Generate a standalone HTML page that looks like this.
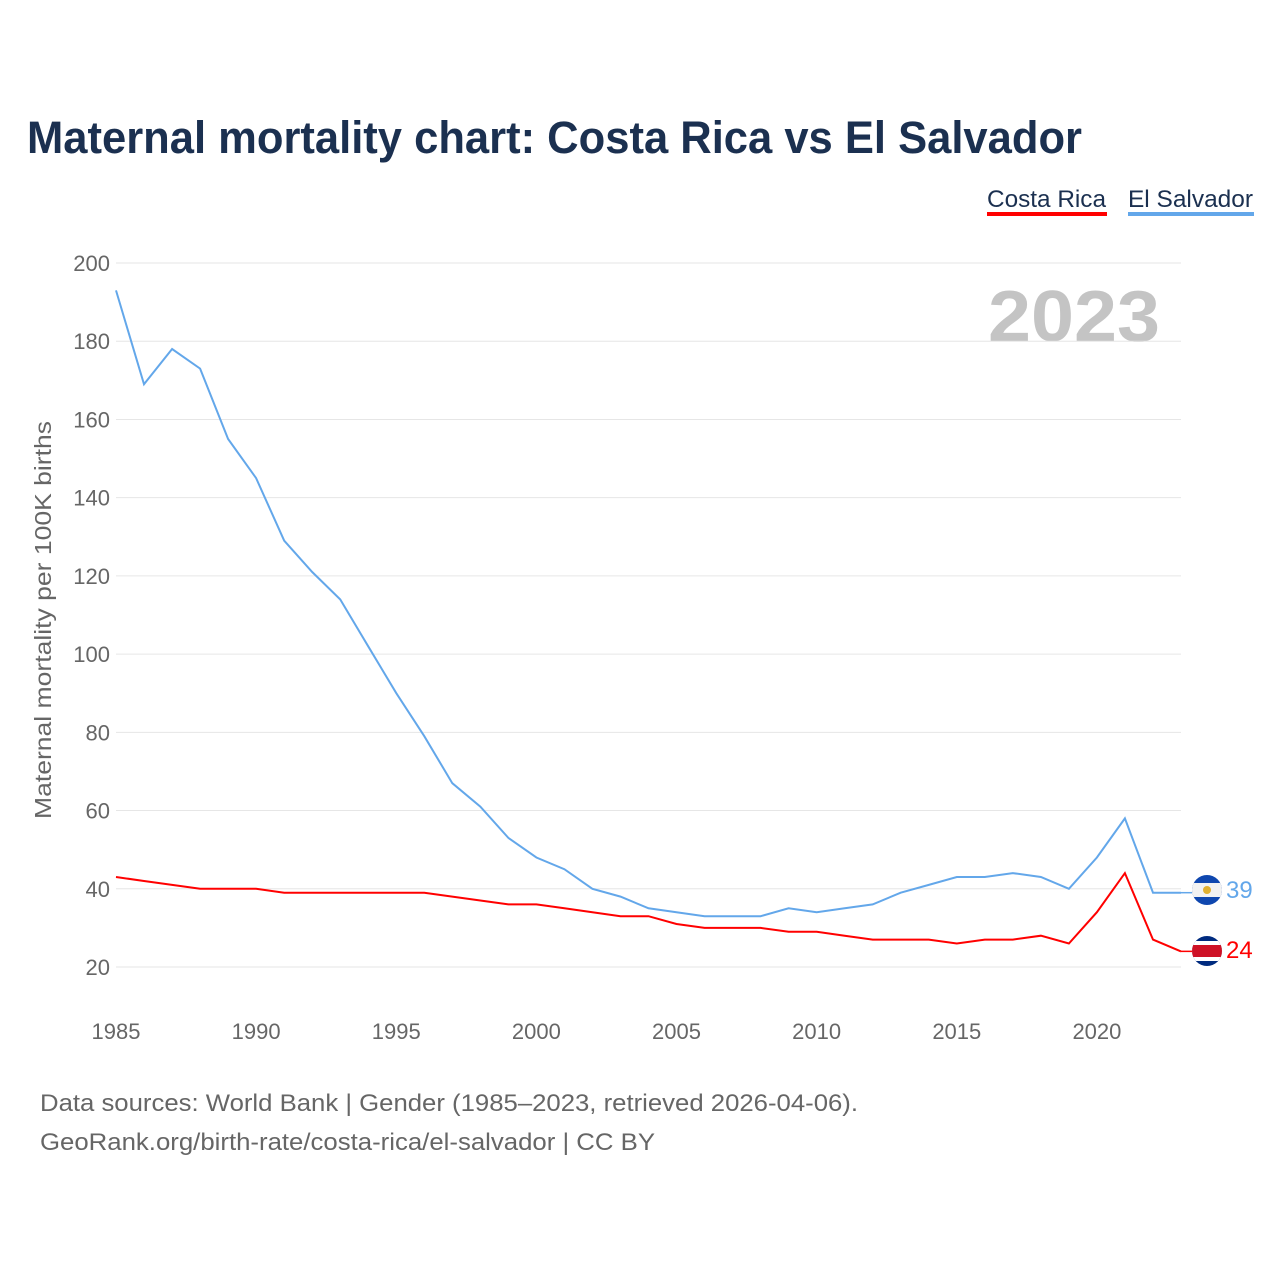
<!DOCTYPE html>
<html><head><meta charset="utf-8"><style>
body{margin:0;background:#fff;font-family:"Liberation Sans",sans-serif}
</style></head><body>
<svg id="c" width="1280" height="1280" xmlns="http://www.w3.org/2000/svg">
<defs>
<clipPath id="f1"><circle cx="1207" cy="890" r="15"/></clipPath>
<clipPath id="f2"><circle cx="1207" cy="951" r="15"/></clipPath>
</defs>
<text x="27" y="153" font-size="45" font-weight="bold" fill="#1b3050" textLength="1055" lengthAdjust="spacingAndGlyphs">Maternal mortality chart: Costa Rica vs El Salvador</text>
<g><text x="987" y="207" font-size="24" fill="#1b3050" textLength="119" lengthAdjust="spacingAndGlyphs">Costa Rica</text><rect x="987" y="212" width="120" height="4" fill="#ff0000"/></g>
<g><text x="1128" y="207" font-size="24" fill="#1b3050" textLength="125" lengthAdjust="spacingAndGlyphs">El Salvador</text><rect x="1128" y="212" width="126" height="4" fill="#63a7ea"/></g>
<text x="1160" y="341" font-size="72" font-weight="bold" fill="#c4c4c4" text-anchor="end" textLength="172" lengthAdjust="spacingAndGlyphs">2023</text>
<text transform="translate(51,620) rotate(-90)" font-size="23" fill="#666" text-anchor="middle" textLength="398" lengthAdjust="spacingAndGlyphs">Maternal mortality per 100K births</text>
<g id="grid"></g><g id="lines"></g>
<g clip-path="url(#f1)"><rect x="1190" y="875" width="34" height="30" fill="#0f47af"/><rect x="1190" y="883" width="34" height="14" fill="#f2f2f2"/><circle cx="1207" cy="890" r="4" fill="#e0b030"/></g>
<g clip-path="url(#f2)"><rect x="1190" y="936" width="34" height="30" fill="#002b7f"/><rect x="1190" y="941" width="34" height="20" fill="#fff"/><rect x="1190" y="945" width="34" height="12" fill="#ce1126"/></g>
<text x="1226" y="898" font-size="24" fill="#63a7ea">39</text>
<text x="1226" y="958" font-size="24" fill="#ff0000">24</text>
<text x="40" y="1111" font-size="24" fill="#666" textLength="818" lengthAdjust="spacingAndGlyphs">Data sources: World Bank | Gender (1985–2023, retrieved 2026-04-06).</text>
<text x="40" y="1150" font-size="24" fill="#666" textLength="615" lengthAdjust="spacingAndGlyphs">GeoRank.org/birth-rate/costa-rica/el-salvador | CC BY</text>
</svg>
<script>
const years=[1985,1986,1987,1988,1989,1990,1991,1992,1993,1994,1995,1996,1997,1998,1999,2000,2001,2002,2003,2004,2005,2006,2007,2008,2009,2010,2011,2012,2013,2014,2015,2016,2017,2018,2019,2020,2021,2022,2023];
const elSalvador=[193,169,178,173,155,145,129,121,114,102,90,79,67,61,53,48,45,40,38,35,34,33,33,33,35,34,35,36,39,41,43,43,44,43,40,48,58,39,39];
const costaRica=[43,42,41,40,40,40,39,39,39,39,39,39,38,37,36,36,35,34,33,33,31,30,30,30,29,29,28,27,27,27,26,27,27,28,26,34,44,27,24];
const yTicks=[20,40,60,80,100,120,140,160,180,200];
const xTicks=[1985,1990,1995,2000,2005,2010,2015,2020];
const NS="http://www.w3.org/2000/svg";
const x=v=>116+(v-1985)*(1181-116)/38;
const y=v=>967-(v-20)*704/180;
const grid=document.getElementById('grid'),lines=document.getElementById('lines');
function mk(tag,a,p){const e=document.createElementNS(NS,tag);for(const k in a)e.setAttribute(k,a[k]);p.appendChild(e);return e;}
yTicks.forEach(t=>{
 const l=mk('line',{x1:116,x2:1181,y1:y(t),y2:y(t),stroke:'#e6e6e6','stroke-width':1},grid);
 
 
 const tx=mk('text',{x:110,y:y(t)+8,'font-size':22,fill:'#666','text-anchor':'end'},grid);tx.textContent=t;
 
 
});
xTicks.forEach(t=>{
 const tx=mk('text',{x:x(t),y:1039,'font-size':22,fill:'#666','text-anchor':'middle'},grid);tx.textContent=t;
 
 
});
function line(vals,color,name){
 const d=vals.map((v,i)=>(i?'L':'M')+x(years[i]).toFixed(1)+','+y(v).toFixed(1)).join('');
 const p=mk('path',{d:d,fill:'none',stroke:color,'stroke-width':2},lines);
 
 
 const last=vals[vals.length-1];
 mk('line',{x1:x(years[years.length-1]),x2:1192,y1:y(last),y2:y(last),stroke:color,'stroke-width':1.5},lines);
}
line(elSalvador,'#63a7ea','el-salvador-line');
line(costaRica,'#ff0000','costa-rica-line');
</script>
</body></html>
